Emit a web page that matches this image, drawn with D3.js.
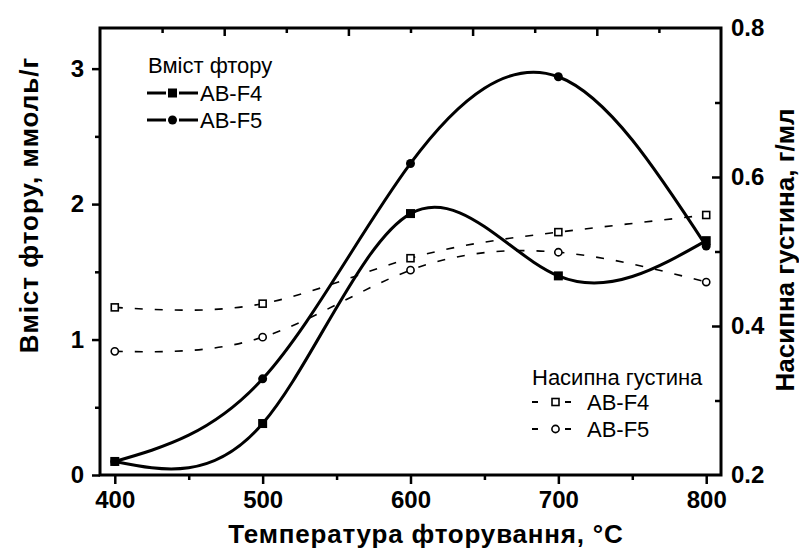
<!DOCTYPE html>
<html>
<head>
<meta charset="utf-8">
<script src="https://cdn.jsdelivr.net/npm/d3@7"></script>
<style>
  body { margin: 0; background: #fff; }
  text { font-family: "Liberation Sans", Arial, sans-serif; }
</style>
</head>
<body>
<div id="chart-container"></div>
<script>
// ----- DATA -----
let temps = [400, 500, 600, 700, 800];
let fluorineF4 = [0.1, 0.38, 1.93, 1.47, 1.73];
let fluorineF5 = [0.1, 0.71, 2.30, 2.94, 1.69];
let densityF4 = [0.425, 0.43, 0.491, 0.526, 0.549];
let densityF5 = [0.366, 0.385, 0.475, 0.499, 0.459];

let xTicks = [400, 500, 600, 700, 800];
let xMinor = [450, 550, 650, 750];
let leftTicks = [0, 1, 2, 3];
let leftMinor = [0.5, 1.5, 2.5];
let rightTicks = [0.2, 0.4, 0.6, 0.8];
let rightMinor = [0.3, 0.5, 0.7];

let width = 799,
    height = 548;

let margin = { top: 28, bottom: 73, left: 100, right: 78 };
let w = width - margin.left - margin.right,
    h = height - margin.top - margin.bottom;

let svg = d3.select("#chart-container")
            .append("svg")
            .attr("width", width)
            .attr("height", height)
            .append("g")
            .attr("transform", `translate(${margin.left},${margin.top})`);

// ----- SCALES -----
let xScale = d3.scaleLinear().domain([390, 810]).range([0, w]);
let yLeft = d3.scaleLinear().domain([0, 3.3]).range([h, 0]);
let yRight = d3.scaleLinear().domain([0.2, 0.8]).range([h, 0]);
let topScale = d3.scaleLinear().domain([0, 10]).range([0, w]);

// ----- AXES -----
function styleAxis(g) {
    g.select(".domain").remove();
    g.selectAll(".tick line").attr("stroke", "black").attr("stroke-width", 2.5);
    g.selectAll(".tick text")
        .attr("font-family", "Liberation Sans, Arial, sans-serif")
        .attr("font-weight", "bold")
        .attr("font-size", 24)
        .attr("fill", "black");
}

// bottom
svg.append("g")
    .attr("transform", `translate(0,${h})`)
    .call(d3.axisBottom(xScale).tickValues(xTicks).tickSize(9).tickPadding(7).tickFormat(d3.format("d")))
    .call(styleAxis);
svg.append("g")
    .attr("transform", `translate(0,${h})`)
    .call(d3.axisBottom(xScale).tickValues(xMinor).tickSize(5).tickFormat(""))
    .call(styleAxis);

// top (inward ticks)
svg.append("g")
    .call(d3.axisBottom(topScale).tickValues([2, 4, 6, 8]).tickSize(8).tickFormat(""))
    .call(styleAxis);
svg.append("g")
    .call(d3.axisBottom(topScale).tickValues([1, 3, 5, 7, 9]).tickSize(5).tickFormat(""))
    .call(styleAxis);

// left
svg.append("g")
    .call(d3.axisLeft(yLeft).tickValues(leftTicks).tickSize(8).tickPadding(8).tickFormat(d3.format("d")))
    .call(styleAxis);
svg.append("g")
    .call(d3.axisLeft(yLeft).tickValues(leftMinor).tickSize(5).tickFormat(""))
    .call(styleAxis);

// right (inward ticks)
svg.append("g")
    .attr("transform", `translate(${w},0)`)
    .call(d3.axisLeft(yRight).tickValues(rightTicks.slice(1, 3)).tickSize(9).tickFormat(""))
    .call(styleAxis);
svg.append("g")
    .attr("transform", `translate(${w},0)`)
    .call(d3.axisLeft(yRight).tickValues(rightMinor).tickSize(6).tickFormat(""))
    .call(styleAxis);
svg.append("g")
    .attr("transform", `translate(${w},0)`)
    .call(d3.axisRight(yRight).tickValues(rightTicks).tickSize(0).tickPadding(10).tickFormat(d3.format(".1f")))
    .call(styleAxis);

// frame
svg.append("rect")
    .attr("width", w)
    .attr("height", h)
    .attr("fill", "none")
    .attr("stroke", "black")
    .attr("stroke-width", 3);

// ----- AXIS LABELS -----
svg.append("text")
    .attr("x", 426 - margin.left)
    .attr("y", 543 - margin.top)
    .style("text-anchor", "middle")
    .style("font-size", "26px")
    .style("font-weight", "bold")
    .style("letter-spacing", "0.8px")
    .text("Температура фторування, °C");

svg.append("text")
    .attr("transform", `translate(${38 - margin.left},${205 - margin.top}) rotate(-90)`)
    .style("text-anchor", "middle")
    .style("font-size", "26px")
    .style("font-weight", "bold")
    .style("letter-spacing", "1px")
    .text("Вміст фтору, ммоль/г");

svg.append("text")
    .attr("transform", `translate(${794 - margin.left},${250 - margin.top}) rotate(-90)`)
    .style("text-anchor", "middle")
    .style("font-size", "26px")
    .style("font-weight", "bold")
    .text("Насипна густина, г/мл");

// ----- LINES -----
function series(vals) {
    return temps.map((t, i) => ({ t: t, v: vals[i] }));
}

let lineLeft = d3.line()
    .x(d => xScale(d.t))
    .y(d => yLeft(d.v))
    .curve(d3.curveNatural);

let lineRight = d3.line()
    .x(d => xScale(d.t))
    .y(d => yRight(d.v))
    .curve(d3.curveNatural);

[densityF4, densityF5].forEach(vals => {
    svg.append("path")
        .datum(series(vals))
        .attr("d", lineRight)
        .attr("stroke", "black")
        .attr("stroke-width", 1.6)
        .attr("stroke-dasharray", "8,12")
        .attr("fill", "none");
});

[fluorineF4, fluorineF5].forEach(vals => {
    svg.append("path")
        .datum(series(vals))
        .attr("d", lineLeft)
        .attr("stroke", "black")
        .attr("stroke-width", 3)
        .attr("fill", "none");
});

// ----- MARKERS -----
svg.selectAll(".sqF4")
    .data(series(fluorineF4))
    .enter().append("rect")
    .attr("x", d => xScale(d.t) - 4.5)
    .attr("y", d => yLeft(d.v) - 4.5)
    .attr("width", 9)
    .attr("height", 9)
    .attr("fill", "black");

svg.selectAll(".ciF5")
    .data(series(fluorineF5))
    .enter().append("circle")
    .attr("cx", d => xScale(d.t))
    .attr("cy", d => yLeft(d.v))
    .attr("r", 4.5)
    .attr("fill", "black");

svg.selectAll(".osqF4")
    .data(series(densityF4))
    .enter().append("rect")
    .attr("x", d => xScale(d.t) - 3.5)
    .attr("y", d => yRight(d.v) - 3.5)
    .attr("width", 7)
    .attr("height", 7)
    .attr("fill", "white")
    .attr("stroke", "black")
    .attr("stroke-width", 1.6);

svg.selectAll(".ociF5")
    .data(series(densityF5))
    .enter().append("circle")
    .attr("cx", d => xScale(d.t))
    .attr("cy", d => yRight(d.v))
    .attr("r", 3.6)
    .attr("fill", "white")
    .attr("stroke", "black")
    .attr("stroke-width", 1.6);

// ----- LEGENDS -----
let leg1 = svg.append("g").attr("transform", `translate(${148 - margin.left},${73 - margin.top})`);
leg1.append("text").attr("x", 0).attr("y", 0).style("font-size", "22px").text("Вміст фтору");
[["AB-F4", "square"], ["AB-F5", "circle"]].forEach((item, i) => {
    let y = 20 + i * 27;
    leg1.append("line").attr("x1", -1).attr("x2", 18).attr("y1", y).attr("y2", y).attr("stroke", "black").attr("stroke-width", 3);
    leg1.append("line").attr("x1", 31).attr("x2", 50).attr("y1", y).attr("y2", y).attr("stroke", "black").attr("stroke-width", 3);
    if (item[1] == "square") {
        leg1.append("rect").attr("x", 20).attr("y", y - 4.5).attr("width", 9).attr("height", 9).attr("fill", "black");
    } else {
        leg1.append("circle").attr("cx", 24.5).attr("cy", y).attr("r", 4.5).attr("fill", "black");
    }
    leg1.append("text").attr("x", 52).attr("y", y + 8).style("font-size", "22px").text(item[0]);
});

let leg2 = svg.append("g").attr("transform", `translate(${532 - margin.left},${385 - margin.top})`);
leg2.append("text").attr("x", 0).attr("y", 0).style("font-size", "22px").text("Насипна густина");
[["AB-F4", "square"], ["AB-F5", "circle"]].forEach((item, i) => {
    let y = 17 + i * 27;
    leg2.append("line").attr("x1", 0).attr("x2", 6).attr("y1", y).attr("y2", y).attr("stroke", "black").attr("stroke-width", 2);
    leg2.append("line").attr("x1", 33).attr("x2", 39).attr("y1", y).attr("y2", y).attr("stroke", "black").attr("stroke-width", 2);
    if (item[1] == "square") {
        leg2.append("rect").attr("x", 20).attr("y", y - 3.5).attr("width", 7).attr("height", 7)
            .attr("fill", "white").attr("stroke", "black").attr("stroke-width", 1.6);
    } else {
        leg2.append("circle").attr("cx", 23.5).attr("cy", y).attr("r", 3.6)
            .attr("fill", "white").attr("stroke", "black").attr("stroke-width", 1.6);
    }
    leg2.append("text").attr("x", 55).attr("y", y + 8).style("font-size", "22px").text(item[0]);
});
</script>
</body>
</html>
